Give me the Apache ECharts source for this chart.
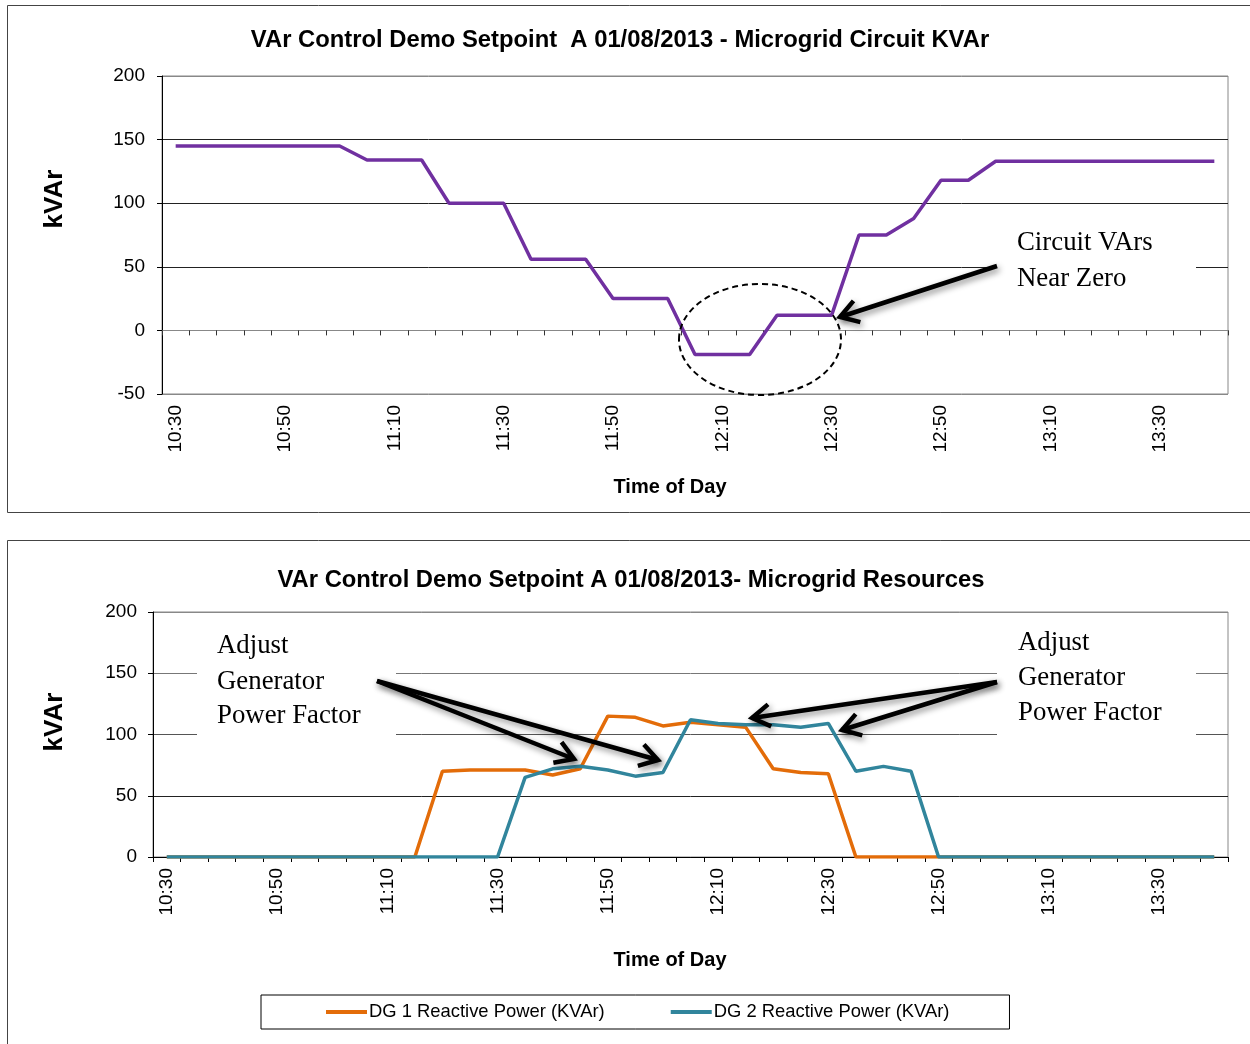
<!DOCTYPE html>
<html>
<head>
<meta charset="utf-8">
<title>VAr Control Demo Setpoint A 01/08/2013</title>
<script src="https://cdn.jsdelivr.net/npm/echarts@6/dist/echarts.min.js"></script>
<style>
  html, body { margin: 0; padding: 0; background: #fff; }
  #chart { width: 1250px; height: 1044px; }
</style>
</head>
<body>
<div id="chart"></div>
<script>
// Five-minute sample times shared by both panels
const times = [
  '10:30','10:35','10:40','10:45','10:50','10:55','11:00','11:05','11:10','11:15',
  '11:20','11:25','11:30','11:35','11:40','11:45','11:50','11:55','12:00','12:05',
  '12:10','12:15','12:20','12:25','12:30','12:35','12:40','12:45','12:50','12:55',
  '13:00','13:05','13:10','13:15','13:20','13:25','13:30','13:35','13:40'
];

// Microgrid circuit reactive power (kVAr)
const circuitKVAr = [
  145,145,145,145,145,145,145,134,134,134,
  100,100,100,56,56,56,25,25,25,-19,
  -19,-19,12,12,12,75,75,88,118,118,
  133,133,133,133,133,133,133,133,133
];

// Generator reactive power (kVAr)
const dg1KVAr = [
  0,0,0,0,0,0,0,0,0,0,
  70,71,71,71,67,72,115,114,107,110,
  108,106,72,69,68,0,0,0,0,0,
  0,0,0,0,0,0,0,0,0
];
const dg2KVAr = [
  0,0,0,0,0,0,0,0,0,0,
  0,0,0,65,72,74,71,66,69,112,
  109,108,108,106,109,70,74,70,0,0,
  0,0,0,0,0,0,0,0,0
];

const yTopRange = { min: -50, max: 200, interval: 50 };
const yBottomRange = { min: 0, max: 200, interval: 50 };

const SANS = '"Liberation Sans", Arial, Helvetica, sans-serif';
const SERIF = '"Liberation Serif", "Times New Roman", Times, serif';

const chart = echarts.init(document.getElementById('chart'), null, { renderer: 'canvas' });

function categoryAxis(gridIndex, extra) {
  return Object.assign({
    type: 'category',
    gridIndex: gridIndex,
    data: times,
    boundaryGap: true,
    axisLine: { show: true, onZero: false, lineStyle: { color: '#000', width: 1 } },
    axisTick: { show: true, interval: 0, alignWithLabel: false, length: 5, lineStyle: { color: '#000' } },
    axisLabel: {
      show: true, interval: 3, rotate: 90, margin: 11,
      fontSize: 19, fontFamily: SANS, color: '#000'
    },
    splitLine: { show: false }
  }, extra);
}

function valueAxis(gridIndex, range, margin, splitColors) {
  return {
    type: 'value',
    gridIndex: gridIndex,
    min: range.min, max: range.max, interval: range.interval,
    axisLine: { show: true, lineStyle: { color: '#000', width: 1 } },
    axisTick: { show: true, length: 5, lineStyle: { color: '#000' } },
    axisLabel: { margin: margin, fontSize: 19, fontFamily: SANS, color: '#000' },
    splitLine: { show: true, lineStyle: { color: splitColors, width: 1 } }
  };
}

// Open-headed arrow with a soft drop shadow
function arrow(x1, y1, x2, y2) {
  const dx = x1 - x2, dy = y1 - y2;
  const len = Math.hypot(dx, dy);
  const ux = dx / len, uy = dy / len;
  const L = 21, a = 32 * Math.PI / 180;
  const arm = (t) => [
    x2 + L * (ux * Math.cos(t) - uy * Math.sin(t)),
    y2 + L * (ux * Math.sin(t) + uy * Math.cos(t))
  ];
  const style = {
    stroke: '#000', lineWidth: 4.5, fill: null, lineJoin: 'miter',
    shadowBlur: 6, shadowColor: 'rgba(0,0,0,0.45)', shadowOffsetX: 2, shadowOffsetY: 3
  };
  return [
    { type: 'line', z: 30, shape: { x1: x1, y1: y1, x2: x2, y2: y2 }, style: style },
    { type: 'polyline', z: 30, shape: { points: [arm(a), [x2, y2], arm(-a)] }, style: style }
  ];
}

function label(text, x, y, opts) {
  return {
    type: 'text', z: 25, x: x, y: y, rotation: (opts && opts.rotation) || 0,
    style: Object.assign({
      text: text, fill: '#000', align: 'left', verticalAlign: 'middle',
      fontSize: 26.8, fontFamily: SERIF
    }, opts && opts.style)
  };
}

function whiteBox(x, y, w, h) {
  return { type: 'rect', z: 20, shape: { x: x, y: y, width: w, height: h }, style: { fill: '#fff', stroke: null } };
}

const titleStyle = { align: 'center', fontSize: 23.8, fontWeight: 'bold', fontFamily: SANS };
const yNameStyle = { align: 'center', fontSize: 26, fontWeight: 'bold', fontFamily: SANS };
const xNameStyle = { align: 'center', fontSize: 20, fontWeight: 'bold', fontFamily: SANS };

const graphics = [
  // panel frames
  { type: 'rect', z: 1, shape: { x: 7.5, y: 5.5, width: 1260, height: 507 }, style: { fill: null, stroke: '#444', lineWidth: 1 } },
  { type: 'rect', z: 1, shape: { x: 7.5, y: 540.5, width: 1260, height: 520 }, style: { fill: null, stroke: '#444', lineWidth: 1 } },

  // titles and axis names
  label('VAr Control Demo Setpoint  A 01/08/2013 - Microgrid Circuit KVAr', 620, 40, { style: titleStyle }),
  label('VAr Control Demo Setpoint A 01/08/2013- Microgrid Resources', 631, 580, { style: titleStyle }),
  label('kVAr', 55, 199, { rotation: Math.PI / 2, style: yNameStyle }),
  label('kVAr', 55, 722, { rotation: Math.PI / 2, style: yNameStyle }),
  label('Time of Day', 670, 487, { style: xNameStyle }),
  label('Time of Day', 670, 960, { style: xNameStyle }),

  // callout: circuit VArs near zero
  whiteBox(997, 222, 199, 78),
  label('Circuit VArs', 1017, 243),
  label('Near Zero', 1017, 278.5),
  { type: 'ellipse', z: 30, shape: { cx: 760, cy: 339.5, rx: 81, ry: 55.5 },
    style: { fill: null, stroke: '#000', lineWidth: 2, lineDash: [6, 4] } },
  ...arrow(997, 266, 840, 317),

  // callouts: generator power factor adjustments
  whiteBox(197, 622, 199, 120),
  label('Adjust', 217, 646),
  label('Generator', 217, 682),
  label('Power Factor', 217, 716),
  ...arrow(377, 681, 574, 759),
  ...arrow(377, 681, 658, 760),

  whiteBox(997, 620, 199, 120),
  label('Adjust', 1018, 643),
  label('Generator', 1018, 678),
  label('Power Factor', 1018, 713),
  ...arrow(997, 682, 752, 718),
  ...arrow(997, 682, 842, 730)
];

const option = {
  animation: false,
  backgroundColor: '#fff',
  grid: [
    { left: 162, top: 76, width: 1066, height: 318, show: true, borderColor: '#888', borderWidth: 1, backgroundColor: 'transparent', containLabel: false },
    { left: 153, top: 612, width: 1075, height: 245, show: true, borderColor: '#888', borderWidth: 1, backgroundColor: 'transparent', containLabel: false }
  ],
  xAxis: [
    // top panel: labels along the bottom edge
    categoryAxis(0, { position: 'bottom', axisLine: { show: false, onZero: false }, axisTick: { show: false } }),
    // top panel: tick line running along zero
    categoryAxis(0, {
      position: 'top',
      axisLine: { show: true, onZero: true, lineStyle: { color: '#888', width: 1 } },
      axisTick: { show: true, inside: true, interval: 0, alignWithLabel: false, length: 5, lineStyle: { color: '#333' } },
      axisLabel: { show: false }
    }),
    // bottom panel
    categoryAxis(1, { position: 'bottom' })
  ],
  yAxis: [
    valueAxis(0, yTopRange, 17, ['#888', '#888', '#222', '#222', '#222', '#888']),
    valueAxis(1, yBottomRange, 16, ['#000', '#222', '#555', '#777', '#888'])
  ],
  legend: {
    show: true,
    left: 261, top: 995,
    orient: 'horizontal',
    padding: [8, 60, 8, 65],
    itemGap: 66,
    itemWidth: 41,
    itemHeight: 4,
    icon: 'rect',
    borderColor: '#000',
    borderWidth: 1,
    backgroundColor: '#fff',
    textStyle: { fontSize: 18.4, fontFamily: SANS, color: '#000', padding: [0, 0, 0, -3] },
    data: ['DG 1 Reactive Power (KVAr)', 'DG 2 Reactive Power (KVAr)']
  },
  series: [
    {
      name: 'Circuit KVAr', type: 'line', xAxisIndex: 1, yAxisIndex: 0,
      data: circuitKVAr, symbol: 'none', smooth: false, z: 5,
      lineStyle: { color: '#7030A0', width: 3.5 }, itemStyle: { color: '#7030A0' }
    },
    {
      name: 'DG 1 Reactive Power (KVAr)', type: 'line', xAxisIndex: 2, yAxisIndex: 1,
      data: dg1KVAr, symbol: 'none', z: 5,
      lineStyle: { color: '#E36C09', width: 3.5 }, itemStyle: { color: '#E36C09' }
    },
    {
      name: 'DG 2 Reactive Power (KVAr)', type: 'line', xAxisIndex: 2, yAxisIndex: 1,
      data: dg2KVAr, symbol: 'none', z: 6,
      lineStyle: { color: '#31859C', width: 3.5 }, itemStyle: { color: '#31859C' }
    }
  ],
  graphic: graphics
};

chart.setOption(option);
</script>
</body>
</html>
